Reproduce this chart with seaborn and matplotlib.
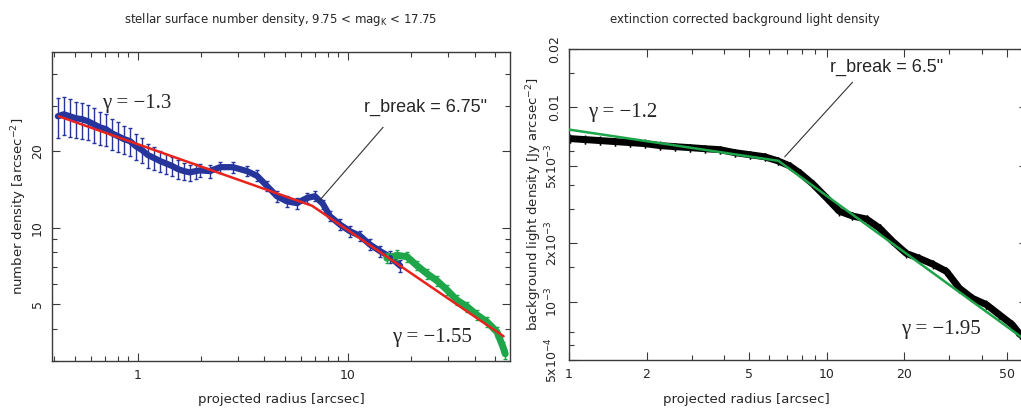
import matplotlib
matplotlib.use("Agg")
import matplotlib.pyplot as plt
import matplotlib.ticker as mticker
import seaborn as sns

# ---- left panel: stellar surface number density ----
r_blue = [0.416, 0.444, 0.475, 0.507, 0.541, 0.578, 0.617, 0.659, 0.704, 0.752,
          0.803, 0.858, 0.916, 0.978, 1.045, 1.116, 1.192, 1.273, 1.359, 1.452,
          1.551, 1.656, 1.768, 1.889,
          1.974, 2.20, 2.46, 2.83, 3.30, 3.69, 4.11, 4.59, 5.12, 5.71,
          6.38, 6.96, 7.60, 8.21, 9.16, 10.2, 11.4, 12.7, 14.2, 15.8, 17.7]
n_blue = [27.4, 27.9, 27.4, 26.9, 26.7, 26.2, 25.5, 24.8, 24.4, 23.5,
          22.9, 22.3, 21.9, 20.9, 20.2, 19.3, 18.8, 18.3, 17.9, 17.5,
          17.0, 16.7, 16.5, 16.7,
          16.8, 16.7, 17.3, 17.3, 16.7, 16.0, 14.6, 13.3, 12.7, 12.5,
          13.1, 13.3, 12.4, 11.1, 10.3, 9.7, 9.3, 8.6, 8.1, 7.7, 7.1]
e_blue = [4.8, 4.8, 4.6, 4.4, 4.3, 4.1, 3.9, 3.7, 3.5, 3.3,
          3.1, 2.9, 2.7, 2.5, 2.3, 2.1, 1.9, 1.8, 1.6, 1.5,
          1.4, 1.3, 1.2, 1.1,
          1.0, 1.0, 0.9, 0.9, 0.8, 0.8, 0.7, 0.7, 0.6, 0.6,
          0.6, 0.6, 0.5, 0.5, 0.5, 0.5, 0.4, 0.4, 0.4, 0.4, 0.4]

r_green = [15.3, 17.1, 19.1, 21.3, 23.8, 26.5, 29.6, 33.0, 36.9, 41.1, 45.9, 51.2, 54.7, 56.0]
n_green = [7.6, 7.8, 7.7, 7.1, 6.6, 6.2, 5.7, 5.2, 4.9, 4.55, 4.27, 3.9, 3.4, 3.2]
e_green = [0.35, 0.35, 0.35, 0.3, 0.3, 0.28, 0.26, 0.24, 0.22, 0.2, 0.2, 0.18, 0.16, 0.15]

r_fit_stars = [0.42, 6.75, 55.0]
n_fit_stars = [27.4, 12.2, 3.75]

# ---- right panel: background light density ----
r_light = [1.01, 1.153, 1.319, 1.508, 1.723, 1.971, 2.253, 2.576, 2.944, 3.367,
           3.85, 4.40, 5.03, 5.75, 6.46, 7.19, 7.86, 8.83, 10.0, 11.2,
           12.6, 14.3, 16.05, 18.0, 20.4, 22.9, 25.8, 29.2, 32.8, 36.8,
           41.7, 46.8, 52.6, 56.5]
f_light = [6.91e-3, 6.83e-3, 6.75e-3, 6.67e-3, 6.59e-3, 6.51e-3, 6.36e-3, 6.28e-3, 6.21e-3, 6.13e-3,
           6.06e-3, 5.85e-3, 5.71e-3, 5.57e-3, 5.31e-3, 5.0e-3, 4.60e-3, 4.04e-3, 3.42e-3, 2.92e-3,
           2.76e-3, 2.66e-3, 2.39e-3, 2.05e-3, 1.77e-3, 1.67e-3, 1.56e-3, 1.43e-3, 1.17e-3, 1.04e-3,
           9.65e-4, 8.57e-4, 7.6e-4, 6.75e-4]
e_light = [3.5e-4, 3.4e-4, 3.4e-4, 3.3e-4, 3.3e-4, 3.3e-4, 3.2e-4, 3.1e-4, 3.1e-4, 3.1e-4,
           3.0e-4, 2.9e-4, 2.9e-4, 2.8e-4, 2.7e-4, 2.5e-4, 2.3e-4, 2.0e-4, 1.7e-4, 1.5e-4,
           1.4e-4, 1.3e-4, 1.2e-4, 1.0e-4, 0.9e-4, 0.8e-4, 0.8e-4, 0.7e-4, 0.6e-4, 0.5e-4,
           0.5e-4, 0.4e-4, 0.4e-4, 0.3e-4]

r_fit_light = [1.0, 6.5, 60.0]
f_fit_light = [7.69e-3, 5.31e-3, 6.25e-4]

right_yticks = [5e-4, 1e-3, 2e-3, 5e-3, 0.01, 0.02]
right_yticklabels = [r"5x10$^{-4}$", r"10$^{-3}$", r"2x10$^{-3}$", r"5x10$^{-3}$", "0.01", "0.02"]
right_yminor = [6e-4, 7e-4, 1.5e-3, 3e-3, 4e-3, 6e-3, 0.015]
right_xticks = [1, 2, 5, 10, 20, 50]

BLUE = "#26359c"
GREEN = "#1fa64a"
RED = "#e8231e"
FITGREEN = "#1ea44a"
INK = "#262626"

sns.set_style("ticks")
plt.rcParams["font.family"] = ["DejaVu Sans"]
plt.rcParams["axes.edgecolor"] = "#3a3a3a"
plt.rcParams["xtick.color"] = "#3a3a3a"
plt.rcParams["ytick.color"] = "#3a3a3a"

fig = plt.figure(figsize=(10.21, 4.08), dpi=100)
ax1 = fig.add_axes([0.0509, 0.1152, 0.4486, 0.7574])
ax2 = fig.add_axes([0.5573, 0.1176, 0.4486, 0.7623])

# left panel
ax1.errorbar(r_blue, n_blue, yerr=e_blue, fmt="o", ms=2.5, color=BLUE,
             elinewidth=1.0, capsize=1.5, zorder=2)
sns.lineplot(x=r_blue, y=n_blue, ax=ax1, color=BLUE, lw=4.5, zorder=2)
ax1.errorbar(r_green, n_green, yerr=e_green, fmt="o", ms=2.5, color=GREEN,
             elinewidth=1.0, capsize=1.5, zorder=2)
sns.lineplot(x=r_green, y=n_green, ax=ax1, color=GREEN, lw=5, zorder=2)
sns.lineplot(x=r_fit_stars, y=n_fit_stars, ax=ax1, color=RED, lw=1.8, zorder=3)

ax1.set_xscale("log")
ax1.set_yscale("log")
ax1.set_xlim(0.39, 59)
ax1.set_ylim(3.0, 49)
ax1.yaxis.set_major_locator(mticker.FixedLocator([5, 10, 20]))
ax1.yaxis.set_major_formatter(mticker.FixedFormatter(["5", "10", "20"]))
ax1.yaxis.set_minor_formatter(mticker.NullFormatter())
ax1.xaxis.set_major_locator(mticker.FixedLocator([1, 10]))
ax1.xaxis.set_major_formatter(mticker.FixedFormatter(["1", "10"]))
ax1.xaxis.set_minor_formatter(mticker.NullFormatter())

ax1.set_title(r"stellar surface number density, 9.75 < mag$_\mathregular{K}$ < 17.75",
              fontsize=8.5, color=INK, pad=21)
ax1.set_xlabel("projected radius [arcsec]", fontsize=9.5, color=INK)
ax1.set_ylabel(r"number density [arcsec$^{-2}$]", fontsize=9.5, color=INK)
ax1.xaxis.set_label_coords(0.5, -0.105)
ax1.yaxis.set_label_coords(-0.05, 0.5)

ax1.text(0.99, 30.8, "γ = −1.3", family="Liberation Serif", fontsize=15,
         ha="center", va="center", color=INK)
ax1.text(25.1, 3.70, "γ = −1.55", family="Liberation Serif", fontsize=15,
         ha="center", va="center", color=INK)
ax1.annotate('r_break = 6.75"', xy=(7.2, 12.6), xytext=(23.3, 29.8),
             fontsize=13, family="Liberation Sans", ha="center", va="center", color=INK,
             arrowprops=dict(arrowstyle="-", color="#333333", lw=0.8,
                             relpos=(0.24, 0.0), shrinkA=8, shrinkB=0))

# right panel
ax2.errorbar(r_light, f_light, yerr=e_light, fmt="+", ms=6, mew=1.0, color="black",
             elinewidth=1.0, capsize=0, zorder=2)
sns.lineplot(x=r_light, y=f_light, ax=ax2, color="black", lw=5, zorder=2)
sns.lineplot(x=r_fit_light, y=f_fit_light, ax=ax2, color=FITGREEN, lw=1.8, zorder=3)

ax2.set_xscale("log")
ax2.set_yscale("log")
ax2.set_xlim(1, 60)
ax2.set_ylim(5e-4, 0.02)
ax2.yaxis.set_major_locator(mticker.FixedLocator(right_yticks))
ax2.yaxis.set_major_formatter(mticker.FixedFormatter(right_yticklabels))
ax2.yaxis.set_minor_locator(mticker.FixedLocator(right_yminor))
ax2.yaxis.set_minor_formatter(mticker.NullFormatter())
ax2.xaxis.set_major_locator(mticker.FixedLocator(right_xticks))
ax2.xaxis.set_major_formatter(mticker.FixedFormatter([str(t) for t in right_xticks]))
ax2.xaxis.set_minor_formatter(mticker.NullFormatter())

ax2.set_title("extinction corrected background light density", fontsize=8.5,
              color=INK, pad=19, x=0.383)
ax2.set_xlabel("projected radius [arcsec]", fontsize=9.5, color=INK)
ax2.set_ylabel(r"background light density [Jy arcsec$^{-2}$]", fontsize=9.5, color=INK)
ax2.xaxis.set_label_coords(0.387, -0.105)
ax2.yaxis.set_label_coords(-0.055, 0.5)

ax2.text(1.62, 9.42e-3, "γ = −1.2", family="Liberation Serif", fontsize=15,
         ha="center", va="center", color=INK)
ax2.text(27.7, 7.16e-4, "γ = −1.95", family="Liberation Serif", fontsize=15,
         ha="center", va="center", color=INK)
ax2.annotate('r_break = 6.5"', xy=(6.88, 5.57e-3), xytext=(17.1, 0.0161),
             fontsize=13, family="Liberation Sans", ha="center", va="center", color=INK,
             arrowprops=dict(arrowstyle="-", color="#333333", lw=0.8,
                             relpos=(0.25, 0.0), shrinkA=3, shrinkB=0))

for ax in (ax1, ax2):
    ax.tick_params(which="both", direction="in", top=True, right=True,
                   labelsize=9, labelcolor=INK, width=0.8)
    ax.tick_params(which="major", length=6, pad=6)
    ax.tick_params(which="minor", length=3.5)
    for lab in ax.get_yticklabels():
        lab.set_rotation(90)
        lab.set_va("center")
    for sp in ax.spines.values():
        sp.set_linewidth(1.0)

fig.savefig("out.png", dpi=100)
